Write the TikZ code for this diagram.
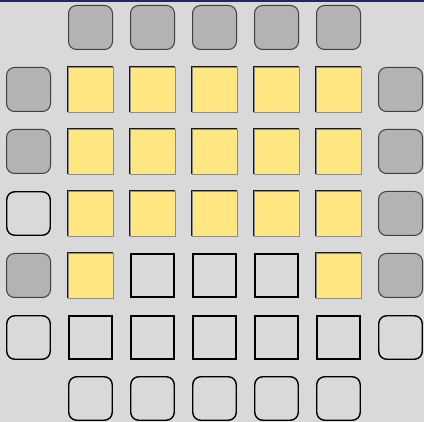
\documentclass[tikz,border=0pt]{standalone}
\begin{document}
\begin{tikzpicture}[x=1pt,y=-1pt,
  rgray/.style={draw=black!75,line width=1pt,fill=graybox,rounded corners=8pt,minimum size=44pt,inner sep=0pt},
  rempty/.style={draw=black,line width=1.4pt,rounded corners=8pt,minimum size=43.5pt,inner sep=0pt},
  yell/.style={fill=yellowbox,minimum size=45pt,inner sep=0pt,draw=black!45,line width=0.6pt},
  sqempty/.style={draw=black,line width=1.6pt,minimum size=43.5pt,inner sep=0pt}]
\definecolor{bgc}{HTML}{D9D9D9}
\definecolor{graybox}{HTML}{B3B3B3}
\definecolor{yellowbox}{HTML}{FFE680}
\definecolor{navy}{HTML}{1F2A5C}
\fill[bgc] (0,0) rectangle (424,422);
\useasboundingbox (0,0) rectangle (424,422);
\fill[navy] (0,0) rectangle (424,2.2);
% row 0
\foreach \c in {1,...,5} \node[rgray] (r0c\c) at ({28.5+62*\c},27.5) {};
% rows 1-3 yellow
\foreach \r in {1,2,3} {
  \foreach \c in {1,...,5} {
    \node[yell] (r\r c\c) at ({28.5+62*\c},{27.5+62*\r}) {};
    \draw[black!90,line width=0.8pt] (r\r c\c.south west) -- (r\r c\c.north west) -- (r\r c\c.north east);
  }
}
\node[rgray] (r1c0) at (28.5,89.5) {};
\node[rgray] (r1c6) at (400.5,89.5) {};
\node[rgray] (r2c0) at (28.5,151.5) {};
\node[rgray] (r2c6) at (400.5,151.5) {};
\node[rempty] (r3c0) at (28.5,213.5) {};
\node[rgray] (r3c6) at (400.5,213.5) {};
% row 4
\node[rgray] (r4c0) at (28.5,275.5) {};
\node[yell] (r4c1) at (90.5,275.5) {};
\draw[black!90,line width=0.8pt] (r4c1.south west) -- (r4c1.north west) -- (r4c1.north east);
\foreach \c in {2,3,4} \node[sqempty] (r4c\c) at ({28.5+62*\c},275.5) {};
\node[yell] (r4c5) at (338.5,275.5) {};
\draw[black!90,line width=0.8pt] (r4c5.south west) -- (r4c5.north west) -- (r4c5.north east);
\node[rgray] (r4c6) at (400.5,275.5) {};
% row 5
\node[rempty] (r5c0) at (28.5,337.5) {};
\foreach \c in {1,...,5} \node[sqempty] (r5c\c) at ({28.5+62*\c},337.5) {};
\node[rempty] (r5c6) at (400.5,337.5) {};
% row 6
\foreach \c in {1,...,5} \node[rempty] (r6c\c) at ({28.5+62*\c},398.5) {};
\end{tikzpicture}
\end{document}
